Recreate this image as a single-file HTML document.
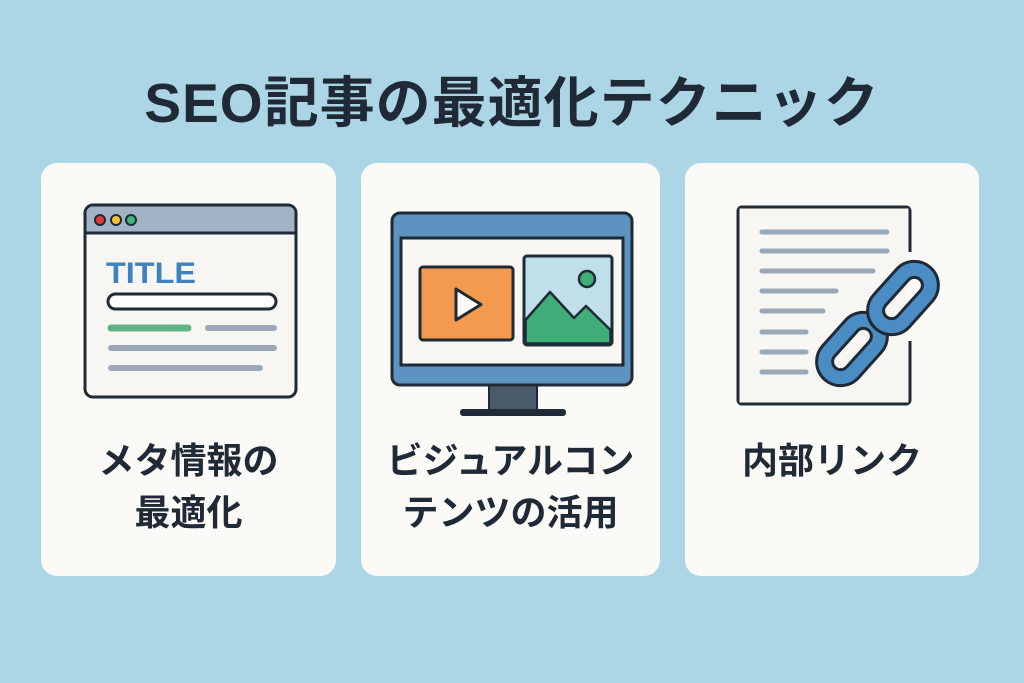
<!DOCTYPE html>
<html><head><meta charset="utf-8"><style>
html,body{margin:0;padding:0}
body{width:1024px;height:683px;background:#acd6e6;position:relative;overflow:hidden;font-family:"Liberation Sans","Noto Sans CJK JP",sans-serif}
.t{position:absolute;left:0;width:1024px;top:58px;text-align:center;font-size:55px;font-weight:bold;color:#1f2a36;letter-spacing:1px}
.c{position:absolute;top:163px;height:413px;background:#fbfaf6;border-radius:16px}
.l{position:absolute;width:100%;text-align:center;font-size:36px;font-weight:bold;color:#1f2a36;line-height:52px}
svg{position:absolute;left:0;top:0}
</style></head><body>
<div class="t">SEO記事の最適化テクニック</div>
<div class="c" style="left:41px;width:295px"><div class="l" style="top:272px">メタ情報の<br>最適化</div></div>
<div class="c" style="left:361px;width:299px"><div class="l" style="top:272px">ビジュアルコン<br>テンツの活用</div></div>
<div class="c" style="left:685px;width:294px"><div class="l" style="top:272px">内部リンク</div></div>
<svg width="1024" height="683">
<rect x="85" y="205" width="211" height="192" rx="8" fill="#f7f6f3" stroke="#1f2a36" stroke-width="3"/>
<path d="M86.5 233 V213 a6.5 6.5 0 0 1 6.5-6.5 H288 a6.5 6.5 0 0 1 6.5 6.5 V233 Z" fill="#a3b3c6"/>
<line x1="85" y1="233" x2="296" y2="233" stroke="#1f2a36" stroke-width="3"/>
<circle cx="100" cy="220" r="5" fill="#e03a3a" stroke="#1f2a36" stroke-width="2"/>
<circle cx="116" cy="220" r="5" fill="#f2c232" stroke="#1f2a36" stroke-width="2"/>
<circle cx="131" cy="220" r="5" fill="#3cb87a" stroke="#1f2a36" stroke-width="2"/>
<text x="106" y="283" font-family="Liberation Sans,sans-serif" font-weight="bold" font-size="30" fill="#3f82bf" textLength="90" lengthAdjust="spacingAndGlyphs">TITLE</text>
<rect x="108" y="294" width="168" height="15" rx="7.5" fill="#fff" stroke="#1f2a36" stroke-width="3"/>
<line x1="111" y1="328" x2="188" y2="328" stroke="#62b382" stroke-width="7" stroke-linecap="round"/>
<line x1="208" y1="328" x2="274" y2="328" stroke="#9aa8b8" stroke-width="6" stroke-linecap="round"/>
<line x1="111" y1="348" x2="274" y2="348" stroke="#9aa8b8" stroke-width="6" stroke-linecap="round"/>
<line x1="111" y1="368" x2="260" y2="368" stroke="#9aa8b8" stroke-width="6" stroke-linecap="round"/>
<rect x="489" y="384" width="48" height="28" fill="#4b5a6b" stroke="#1f2a36" stroke-width="2"/>
<rect x="460" y="409" width="106" height="7" rx="3" fill="#1f2a36"/>
<rect x="392" y="213" width="240" height="172" rx="8" fill="#5d93c0" stroke="#1f2a36" stroke-width="3"/>
<rect x="401" y="238" width="222" height="127" fill="#f7f6f3" stroke="#1f2a36" stroke-width="3"/>
<rect x="420" y="267" width="93" height="73" rx="3" fill="#f39a4e" stroke="#1f2a36" stroke-width="3"/>
<path d="M456 289 L456 320 L481 304.5 Z" fill="#fbfaf6" stroke="#1f2a36" stroke-width="3" stroke-linejoin="round"/>
<rect x="524" y="256" width="88" height="89" rx="3" fill="#bfe0e8" stroke="#1f2a36" stroke-width="3"/>
<path d="M525.5 343.5 V320 L550 292 L574 318 L586 306 L610.5 330 V343.5 Z" fill="#3fae78" stroke="#1f2a36" stroke-width="2.5" stroke-linejoin="round"/>
<circle cx="587" cy="279" r="8" fill="#3fae78" stroke="#1f2a36" stroke-width="2.5"/>
<path d="M910 252 V211 a4 4 0 0 0 -4 -4 H742 a4 4 0 0 0 -4 4 V400 a4 4 0 0 0 4 4 H906 a4 4 0 0 0 4 -4 V341" fill="none" stroke="#1f2a36" stroke-width="3"/>
<rect x="739.5" y="208.5" width="169" height="194" fill="#f7f6f3"/>
<g stroke="#9aa8b8" stroke-width="5" stroke-linecap="round">
<line x1="762" y1="232" x2="887" y2="232"/><line x1="762" y1="251" x2="887" y2="251"/>
<line x1="762" y1="271" x2="873" y2="271"/><line x1="762" y1="291" x2="836" y2="291"/>
<line x1="762" y1="311" x2="823" y2="311"/><line x1="762" y1="332" x2="806" y2="332"/>
<line x1="762" y1="352" x2="806" y2="352"/><line x1="762" y1="372" x2="806" y2="372"/></g>
<g fill="none" stroke-linecap="round">
<g transform="rotate(-48 852 349)"><rect x="819" y="333" width="66" height="32" rx="16" stroke="#1f2a36" stroke-width="19"/><rect x="819" y="333" width="66" height="32" rx="16" stroke="#4a8cc4" stroke-width="13"/></g>
<g transform="rotate(-48 903 298)"><rect x="870" y="282" width="66" height="32" rx="16" stroke="#1f2a36" stroke-width="19"/><rect x="870" y="282" width="66" height="32" rx="16" stroke="#4a8cc4" stroke-width="13"/></g>
</g>
</svg>
</body></html>
